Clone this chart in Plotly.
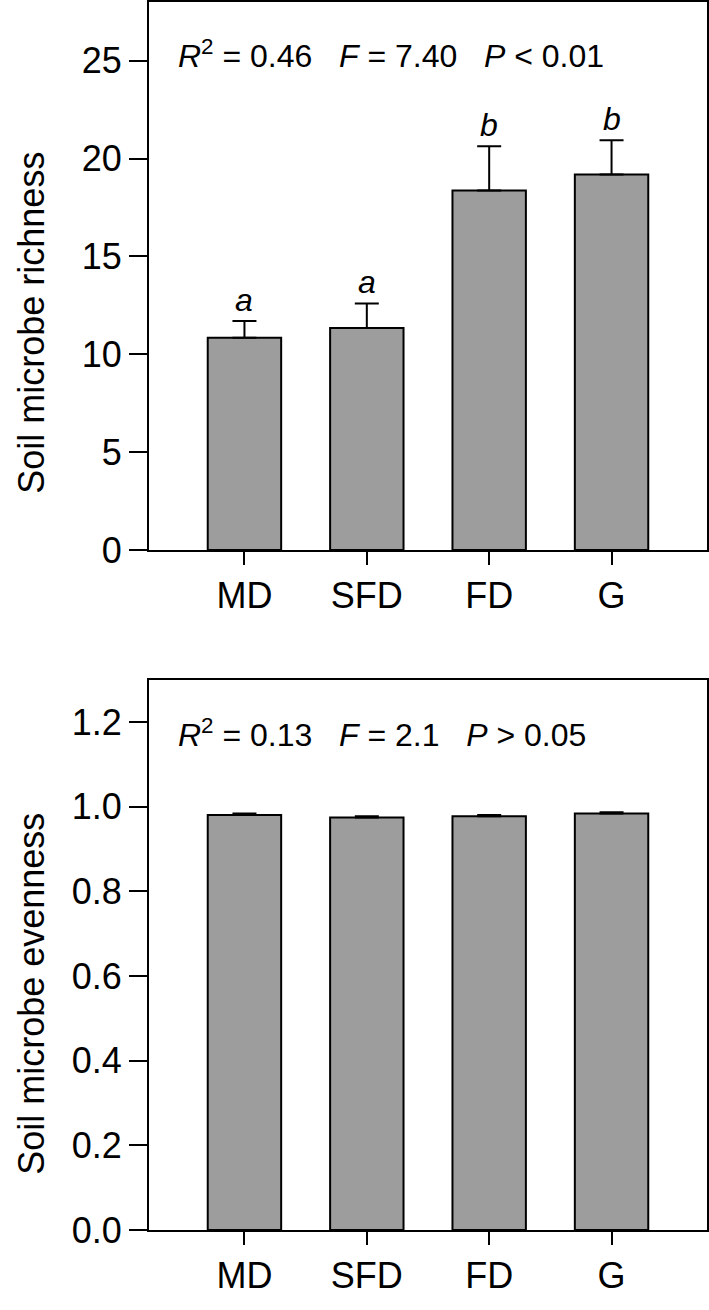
import plotly.graph_objects as go

categories = ["MD", "SFD", "FD", "G"]
richness = [10.84, 11.35, 18.37, 19.18]
richness_se = [0.86, 1.25, 2.26, 1.75]
richness_letters = ["a", "a", "b", "b"]
evenness = [0.981, 0.975, 0.978, 0.984]
evenness_se = [0.003, 0.003, 0.003, 0.003]
richness_ticks = [0, 5, 10, 15, 20, 25]
evenness_ticks = [0.0, 0.2, 0.4, 0.6, 0.8, 1.0, 1.2]

W, H = 709, 1310
FONT = "Arial, Liberation Sans, sans-serif"
BAR = "#9d9d9d"

fig = go.Figure()
for yv, se, xa, ya in [(richness, richness_se, "x", "y"), (evenness, evenness_se, "x2", "y2")]:
    fig.add_trace(go.Bar(x=categories, y=yv, width=0.6,
                         marker=dict(color=BAR, line=dict(color="black", width=2)),
                         error_y=dict(type="data", symmetric=False, array=se, arrayminus=[0]*len(se),
                                      color="black", thickness=2, width=12),
                         xaxis=xa, yaxis=ya, showlegend=False))

def xax(anchor):
    return dict(domain=[149/W, 707/W], range=[-0.78, 3.78], anchor=anchor, showline=True, mirror=True,
                linecolor="black", linewidth=2, ticks="outside", ticklen=13, tickwidth=2, tickcolor="black",
                showgrid=False, zeroline=False, tickfont=dict(family=FONT, size=36, color="black"))

def yax(anchor, dom, rng, tv, fmt):
    return dict(domain=dom, range=rng, anchor=anchor, showline=True, mirror=True, linecolor="black", linewidth=2,
                ticks="outside", ticklen=18, tickwidth=2, tickcolor="black", showgrid=False, zeroline=False,
                tickvals=tv, tickformat=fmt, tickfont=dict(family=FONT, size=36, color="black"))

fig.update_layout(
    width=W, height=H, margin=dict(l=0, r=0, t=0, b=0), plot_bgcolor="white", paper_bgcolor="white",
    xaxis=xax("y"), yaxis=yax("x", [1-559/H, 1-2/H], [0, 28], richness_ticks, "d"),
    xaxis2=xax("y2"), yaxis2=yax("x2", [1-1250/H, 1-691/H], [0, 1.3], evenness_ticks, ".1f"),
)

for c, v, e, l in zip(categories, richness, richness_se, richness_letters):
    fig.add_annotation(x=c, y=v+e, xref="x", yref="y", text=f"<i>{l}</i>", showarrow=False,
                       yanchor="bottom", yshift=1, font=dict(family=FONT, size=32, color="black"))

fig.add_annotation(x=176/W, y=1-55/H, xref="paper", yref="paper", xanchor="left", yanchor="middle", showarrow=False,
                   text="<i>R</i><sup>2</sup> = 0.46   <i>F</i> = 7.40   <i>P</i> < 0.01",
                   font=dict(family=FONT, size=32, color="black"))
fig.add_annotation(x=176/W, y=1-745/H, xref="paper", yref="paper", xanchor="left", yanchor="middle", showarrow=False,
                   text="<i>R</i><sup>2</sup> = 0.13   <i>F</i> = 2.1   <i>P</i> > 0.05",
                   font=dict(family=FONT, size=32, color="black"))

fig.add_annotation(x=32/W, y=1-328/H, xref="paper", yref="paper", xanchor="center", yanchor="middle",
                   textangle=-90, showarrow=False,
                   text="Soil microbe richness", font=dict(family=FONT, size=36, color="black"))
fig.add_annotation(x=32/W, y=1-1010/H, xref="paper", yref="paper", xanchor="center", yanchor="middle",
                   textangle=-90, showarrow=False,
                   text="Soil microbe evenness", font=dict(family=FONT, size=36, color="black"))

fig.write_html("out.html", config={"displayModeBar": False},
               post_script="document.body.style.margin='0px';")
